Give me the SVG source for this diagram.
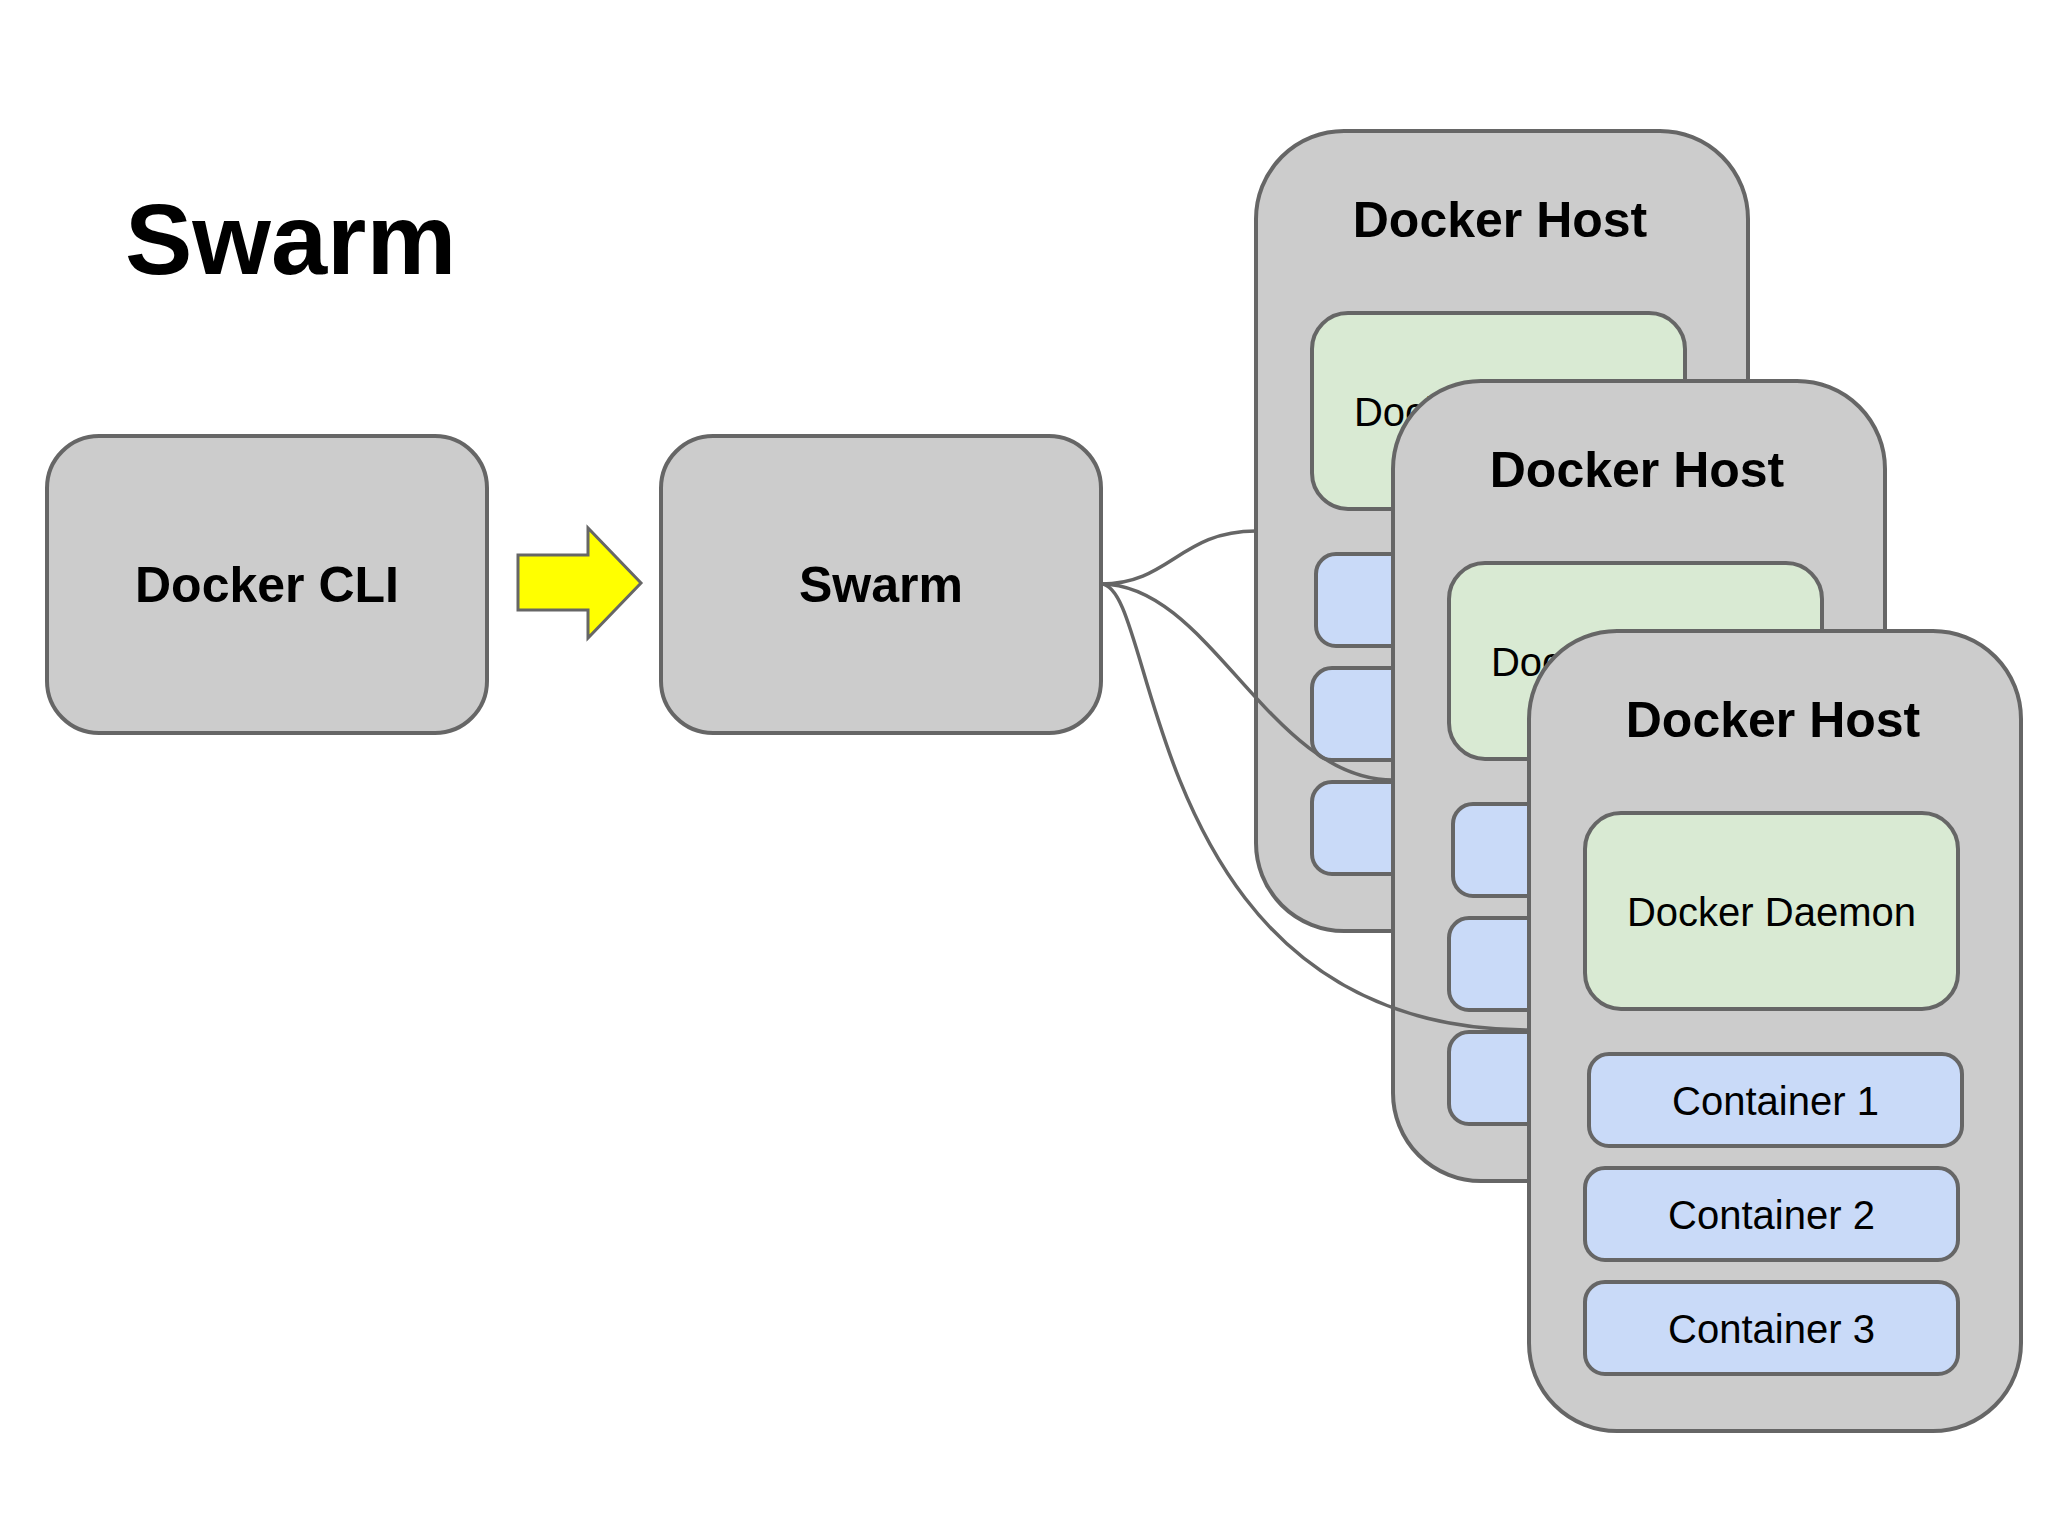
<svg xmlns="http://www.w3.org/2000/svg" width="2048" height="1536" viewBox="0 0 2048 1536">
<style>
.box{fill:#cccccc;stroke:#666666;stroke-width:4}
.dae{fill:#d9ead3;stroke:#666666;stroke-width:4}
.ctr{fill:#c9daf8;stroke:#666666;stroke-width:4}
.b{font-family:"Liberation Sans",Arial,sans-serif;font-weight:bold;fill:#000;text-anchor:middle}
.r{font-family:"Liberation Sans",Arial,sans-serif;fill:#000;text-anchor:middle;font-size:40px}
.con{fill:none;stroke:#666666;stroke-width:3.5}
</style>
<rect width="2048" height="1536" fill="#ffffff"/>
<text id="title" x="125" y="274" font-family="Liberation Sans, Arial, sans-serif" font-weight="bold" font-size="101" fill="#000">Swarm</text>
<g id="docker-cli">
<rect class="box" x="47" y="436" width="440" height="297" rx="52"/>
<text class="b" x="267" y="602" font-size="50">Docker CLI</text>
</g>
<g id="arrow">
<polygon points="518,555 588,555 588,528 641,583 588,638 588,610 518,610" fill="#ffff00" stroke="#666666" stroke-width="3"/>
</g>
<g id="swarm">
<rect class="box" x="661" y="436" width="440" height="297" rx="52"/>
<text class="b" x="881" y="602" font-size="50">Swarm</text>
</g>
<g id="host1" transform="translate(1256,131)">
<rect class="box" x="0" y="0" width="492" height="800" rx="88"/>
<text class="b" x="244" y="106" font-size="50">Docker Host</text>
<rect class="dae" x="56" y="182" width="373" height="196" rx="36"/>
<text class="r" x="242.5" y="295">Docker Daemon</text>
<rect class="ctr" x="60" y="423" width="373" height="92" rx="20"/>
<rect class="ctr" x="56" y="537" width="373" height="92" rx="20"/>
<rect class="ctr" x="56" y="651" width="373" height="92" rx="20"/>
</g>
<g id="host2" transform="translate(1393,381)">
<rect class="box" x="0" y="0" width="492" height="800" rx="88"/>
<text class="b" x="244" y="106" font-size="50">Docker Host</text>
<rect class="dae" x="56" y="182" width="373" height="196" rx="36"/>
<text class="r" x="242.5" y="295">Docker Daemon</text>
<rect class="ctr" x="60" y="423" width="373" height="92" rx="20"/>
<rect class="ctr" x="56" y="537" width="373" height="92" rx="20"/>
<rect class="ctr" x="56" y="651" width="373" height="92" rx="20"/>
</g>
<g id="host3" transform="translate(1529,631)">
<rect class="box" x="0" y="0" width="492" height="800" rx="88"/>
<text class="b" x="244" y="106" font-size="50">Docker Host</text>
<rect class="dae" x="56" y="182" width="373" height="196" rx="36"/>
<text class="r" x="242.5" y="295">Docker Daemon</text>
<rect class="ctr" x="60" y="423" width="373" height="92" rx="20"/>
<text class="r" x="246.5" y="484">Container 1</text>
<rect class="ctr" x="56" y="537" width="373" height="92" rx="20"/>
<text class="r" x="242.5" y="598">Container 2</text>
<rect class="ctr" x="56" y="651" width="373" height="92" rx="20"/>
<text class="r" x="242.5" y="712">Container 3</text>
</g>
<g id="connectors">
<path class="con" d="M1101,584 C1170,584 1180,531 1256,531"/>
<path class="con" d="M1101,584 C1210,584 1270,780 1393,780"/>
<path class="con" d="M1101,584 C1160,584 1140,1030 1529,1030"/>
</g>
</svg>
